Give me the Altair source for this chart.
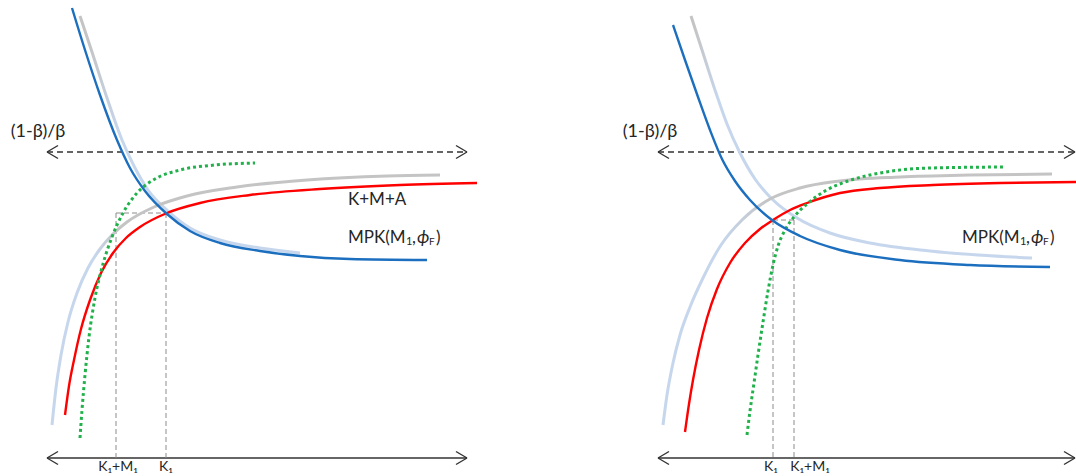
import altair as alt
import pandas as pd

# ---------------------------------------------------------------
# Two schematic panels (figure coordinates: x to the right, y downwards)
# ---------------------------------------------------------------
W, H = 538, 476
FONT = "Lato, 'Noto Sans', 'DejaVu Sans', sans-serif"

BLUE = "#1c6fbf"
RED = "#ff0000"
GREEN = "#21b14b"
GREY = "#c4c4c4"
LIGHT_BLUE = "#c6d6ec"
INK = "#262626"

# ---- left panel curves ----
L_MPK_X = [72, 85, 100, 117, 130, 145, 167, 190, 220, 260, 300, 350, 427]
L_MPK_Y = [8, 50, 95, 140, 168, 191, 214, 231, 243, 251, 256, 259, 260]

L_MPK_OLD_X = [80, 92, 106, 122, 134, 148, 168, 190, 220, 260, 300]
L_MPK_OLD_Y = [16, 52, 95, 140, 166, 190, 211, 228, 240, 248, 253]

L_KMA_OLD_X = [52, 56, 61, 68, 77, 88, 100, 113, 127, 154, 187, 237, 307, 387, 440]
L_KMA_OLD_Y = [425, 388, 355, 322, 293, 268, 249, 234, 222, 207, 196, 187, 180, 176, 175]

L_KMA_X = [65, 69, 74, 81, 90, 101, 113, 126, 140, 167, 200, 250, 320, 400, 477]
L_KMA_Y = [415, 386, 360, 329, 300, 273, 253, 238, 227, 213, 203, 195, 189, 185, 183]

L_GREEN_X = [80, 82, 85, 89, 95, 103, 112, 123, 137, 155, 180, 215, 255]
L_GREEN_Y = [438, 410, 375, 337, 298, 264, 237, 213, 193, 179, 170, 165, 163]

# ---- right panel curves ----
R_MPK_X = [673, 685, 698, 710, 722, 735, 750, 772, 800, 840, 900, 970, 1050]
R_MPK_Y = [25, 60, 97, 130, 159, 181, 200, 220, 236, 250, 260, 265, 267]

R_MPK_OLD_X = [691, 703, 715, 727, 740, 755, 772, 797, 830, 870, 930, 1032]
R_MPK_OLD_Y = [16, 53, 90, 124, 153, 179, 199, 218, 233, 243, 251, 258]

R_KMA_OLD_X = [663, 667, 673, 680, 690, 703, 721, 742, 770, 800, 840, 900, 970, 1052]
R_KMA_OLD_Y = [425, 395, 363, 335, 307, 278, 245, 220, 199, 188, 181, 177, 175, 174]

R_KMA_X = [685, 689, 693, 699, 707, 717, 730, 745, 760, 773, 790, 807, 840, 880, 933, 1000, 1076]
R_KMA_Y = [432, 404, 380, 350, 318, 289, 263, 243, 229, 220, 210, 203, 193, 188, 185, 183, 182]

R_GREEN_X = [747, 750, 754, 758, 763, 768, 773, 778, 785, 794, 807, 825, 848, 880, 930, 1003]
R_GREEN_Y = [435, 411, 383, 355, 322, 291, 265, 246, 230, 217, 204, 191, 181, 173, 168, 167]

# ---- axes (double-headed arrows) ----
ARROW_Y_TOP = 152          # (1-beta)/beta level
ARROW_Y_BOTTOM = 458       # capital axis
L_ARROW = (47, 467)
R_ARROW = (658, 1075)

# ---- equilibrium guides ----
L_GUIDE = {"k1": 166, "k1m1": 116, "level": 213}
R_GUIDE = {"k1": 773, "k1m1": 794, "level": 220}

# ---- labels ----
L_TICKS = [("K₁+M₁", 118), ("K₁", 166)]
R_TICKS = [("K₁", 771), ("K₁+M₁", 810)]
BETA_LABEL = "(1-β)/β"
L_BETA_X, R_BETA_X = 38, 650
KMA_LABEL = ("K+M+A", 348, 200)
L_MPK_LABEL = (348, 238)
R_MPK_LABEL = (962, 238)


def curve_df(xs, ys):
    return pd.DataFrame({"x": xs, "y": ys, "i": range(len(xs))})


def xy(dom):
    return dict(
        x=alt.X("x:Q", scale=alt.Scale(domain=dom, nice=False, zero=False), axis=None),
        y=alt.Y("y:Q", scale=alt.Scale(domain=[0, H], reverse=True, nice=False, zero=False), axis=None),
    )


def seg_enc(dom):
    return dict(x2="x2:Q", y2="y2:Q", **xy(dom))


def gradient(stops):
    return alt.LinearGradient(
        gradient="linear",
        stops=[alt.GradientStop(color=c, offset=o) for c, o in stops],
        x1=0, x2=1, y1=0, y2=0,
    )


def curve(xs, ys, dom, color, width, dash=None):
    kw = dict(interpolate="monotone", strokeWidth=width, strokeCap="butt", clip=True)
    if dash:
        kw["strokeDash"] = dash
    return alt.Chart(curve_df(xs, ys)).mark_line(color=color, **kw).encode(
        order="i:Q", **xy(dom)
    )


def arrows(dom, x0, x1):
    rows = []
    for y, style in [(ARROW_Y_TOP, "dash"), (ARROW_Y_BOTTOM, "solid")]:
        rows.append(dict(x=x0, y=y, x2=x1, y2=y, s=style))
        for tip, d in [(x0, 11), (x1, -11)]:
            rows.append(dict(x=tip, y=y, x2=tip + d, y2=y - 6.5, s="solid"))
            rows.append(dict(x=tip, y=y, x2=tip + d, y2=y + 6.5, s="solid"))
    df = pd.DataFrame(rows)
    solid = alt.Chart(df[df.s == "solid"]).mark_rule(color="#333333", strokeWidth=1.4).encode(**seg_enc(dom))
    dashed = alt.Chart(df[df.s == "dash"]).mark_rule(
        color="#333333", strokeWidth=1.4, strokeDash=[6, 4]
    ).encode(**seg_enc(dom))
    return solid + dashed


def guides(dom, g):
    lo, hi = sorted([g["k1"], g["k1m1"]])
    rows = [
        dict(x=g["k1"], y=g["level"], x2=g["k1"], y2=ARROW_Y_BOTTOM),
        dict(x=g["k1m1"], y=g["level"], x2=g["k1m1"], y2=ARROW_Y_BOTTOM),
        dict(x=lo, y=g["level"], x2=hi, y2=g["level"]),
    ]
    return alt.Chart(pd.DataFrame(rows)).mark_rule(
        color="#8c8c8c", strokeWidth=1, strokeDash=[5, 3]
    ).encode(**seg_enc(dom))


def text(dom, rows, align="center", size=15, style="normal", dx=0, dy=0):
    df = pd.DataFrame(rows, columns=["t", "x", "y"])
    return alt.Chart(df).mark_text(
        font=FONT, fontSize=size, color=INK, align=align, baseline="middle",
        fontStyle=style, dx=dx, dy=dy,
    ).encode(text="t:N", **xy(dom))


def mpk_label(dom, x, y):
    # MPK(M_1, phi_F) set piece by piece: subscripts smaller and lowered, phi in italics
    return alt.layer(
        text(dom, [("MPK(M", x, y)], align="left", size=17),
        text(dom, [("1", x, y)], align="left", size=11, dx=58, dy=4),
        text(dom, [(",", x, y)], align="left", size=17, dx=64),
        text(dom, [("ϕ", x, y)], align="left", size=18, style="italic", dx=69),
        text(dom, [("F", x, y)], align="left", size=10, dx=81, dy=4),
        text(dom, [(")", x, y)], align="left", size=17, dx=88),
    )


def panel(dom, curves, arrow, guide, ticks, beta_x, extra):
    layers = [arrows(dom, *arrow), guides(dom, guide)]
    layers += [c(dom) for c in curves]
    layers.append(text(dom, [(t, x, 467) for t, x in ticks], size=14))
    layers.append(text(dom, [(BETA_LABEL, beta_x, 132)], size=18))
    layers += [e(dom) for e in extra]
    return alt.layer(*layers).properties(width=W, height=H)


left = panel(
    [0, W],
    [
        lambda d: curve(L_MPK_OLD_X, L_MPK_OLD_Y, d,
                        gradient([(GREY, 0), (GREY, 0.04), (LIGHT_BLUE, 0.18), (LIGHT_BLUE, 1)]), 3),
        lambda d: curve(L_KMA_OLD_X, L_KMA_OLD_Y, d,
                        gradient([(LIGHT_BLUE, 0), (LIGHT_BLUE, 0.11), (GREY, 0.17), (GREY, 1)]), 3),
        lambda d: curve(L_KMA_X, L_KMA_Y, d, RED, 2.4),
        lambda d: curve(L_GREEN_X, L_GREEN_Y, d, GREEN, 3, [3, 3]),
        lambda d: curve(L_MPK_X, L_MPK_Y, d, BLUE, 2.4),
    ],
    L_ARROW, L_GUIDE, L_TICKS, L_BETA_X,
    [
        lambda d: text(d, [KMA_LABEL], align="left", size=17),
        lambda d: mpk_label(d, *L_MPK_LABEL),
    ],
)

right = panel(
    [W, 2 * W],
    [
        lambda d: curve(R_MPK_OLD_X, R_MPK_OLD_Y, d,
                        gradient([(GREY, 0), (GREY, 0.01), (LIGHT_BLUE, 0.08), (LIGHT_BLUE, 1)]), 3),
        lambda d: curve(R_KMA_OLD_X, R_KMA_OLD_Y, d,
                        gradient([(LIGHT_BLUE, 0), (LIGHT_BLUE, 0.15), (GREY, 0.27), (GREY, 1)]), 3),
        lambda d: curve(R_KMA_X, R_KMA_Y, d, RED, 2.4),
        lambda d: curve(R_GREEN_X, R_GREEN_Y, d, GREEN, 3, [3, 3]),
        lambda d: curve(R_MPK_X, R_MPK_Y, d, BLUE, 2.4),
    ],
    R_ARROW, R_GUIDE, R_TICKS, R_BETA_X,
    [lambda d: mpk_label(d, *R_MPK_LABEL)],
)

chart = (
    alt.hconcat(left, right, spacing=0)
    .properties(padding=0, background="white")
    .configure_view(stroke=None)
)

chart.save("out.html", embed_options={"renderer": "svg", "actions": False})
